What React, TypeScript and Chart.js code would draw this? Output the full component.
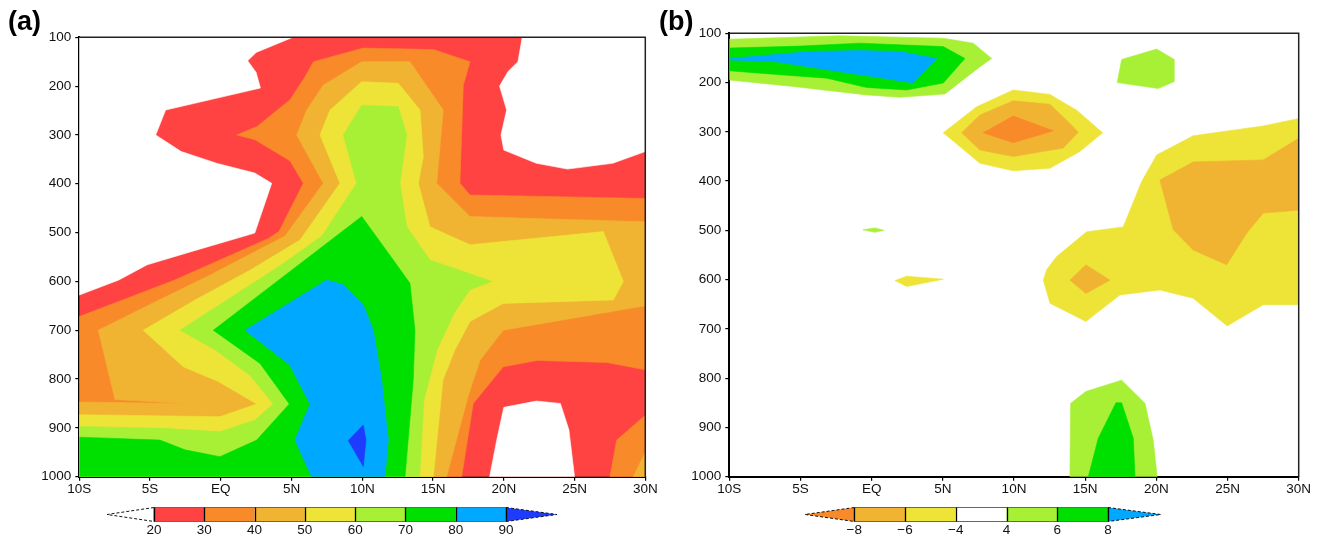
import React, { useEffect, useRef } from 'react';
import { Chart, registerables } from 'chart.js';

Chart.register(...registerables);

// ---------- axes ----------
const xTickValues = [-10, -5, 0, 5, 10, 15, 20, 25, 30];
const xTickLabels = ['10S', '5S', 'EQ', '5N', '10N', '15N', '20N', '25N', '30N'];
const yTickValues = [100, 200, 300, 400, 500, 600, 700, 800, 900, 1000];
const yTickLabels = ['100', '200', '300', '400', '500', '600', '700', '800', '900', '1000'];

// ---------- colour bar labels ----------
const levelsA = ['20', '30', '40', '50', '60', '70', '80', '90'];
const levelsB = ['\u22128', '\u22126', '\u22124', '4', '6', '8'];

// ---------- colours ----------
const RED = '#FF4242';
const ORANGE = '#F88A2A';
const LORANGE = '#F0B432';
const YELLOW = '#EEE438';
const LGREEN = '#A8F036';
const GREEN = '#00E000';
const BLUE = '#00A8FF';
const DBLUE = '#1E3CFF';
const WHITE = '#FFFFFF';

// ---------- panel (a): contour polygons [lon, hPa] ----------
const A_GE20 = [[-10, 100], [30, 100], [30, 1000], [-10, 1000]];
const A_LT20_TL = [[-10, 100], [5.1, 100], [2.5, 131], [1.9, 148], [2.5, 172], [2.8, 204], [-3.9, 249], [-4.6, 300], [-2.8, 334], [-0.3, 358], [2.4, 378], [3.6, 399], [2.4, 501], [-2.1, 539], [-5.2, 566], [-7.2, 597], [-10, 628]];
const A_LT20_TR = [[21.3, 100], [21.0, 150], [20.3, 170], [19.7, 200], [20.2, 249], [19.8, 300], [20.0, 331], [22.3, 358], [24.5, 370], [27.7, 358], [30, 334], [30, 100]];
const A_LT20_BOT = [[19.0, 1000], [19.5, 925], [20.0, 858], [22.3, 845], [24.0, 850], [24.6, 904], [25.0, 1000]];
const A_GE30 = [[-10, 672], [-3.25, 597], [3.36, 512], [4.11, 498], [5.83, 399], [4.89, 353], [2.42, 310], [1.12, 300], [2.54, 283], [4.89, 228], [5.95, 181], [6.54, 150], [10.07, 122], [15.02, 125], [17.61, 150], [17.14, 198], [16.9, 399], [17.61, 423], [30, 430], [30, 781], [27.27, 766], [22.33, 762], [19.96, 775], [17.84, 850], [17.02, 1000], [-10, 1000]];
const A_GE30_SE = [[30, 874], [27.98, 925], [27.5, 1000], [30, 1000]];
const A_GE40 = [[-10, 847], [-2.53, 850], [-7.48, 842], [-8.66, 700], [-4.65, 642], [-0.76, 587], [4.54, 507], [7.24, 399], [5.36, 300], [6.07, 249], [7.24, 198], [9.96, 150], [13.37, 150], [15.72, 249], [15.26, 399], [17.61, 467], [30, 478], [30, 650], [19.96, 700], [18.33, 761], [17.47, 836], [15.96, 1000], [-10, 1000]];
const A_GE40_SE = [[29.15, 1000], [30, 950], [30, 1000]];
const A_GE50 = [[-10, 873], [-0.06, 877], [2.54, 851], [-0.18, 805], [-2.65, 775], [-5.48, 700], [-1.82, 638], [2.06, 577], [5.6, 515], [8.42, 399], [7.01, 300], [7.72, 249], [9.96, 191], [12.54, 194], [14.08, 249], [14.31, 345], [13.96, 399], [14.78, 488], [17.61, 525], [27.03, 498], [28.45, 600], [27.74, 638], [19.96, 645], [17.61, 682], [16.55, 740], [15.7, 802], [15.02, 1000], [-10, 1000]];
const A_GE60 = [[-10, 897], [-4.06, 901], [-0.06, 908], [2.42, 884], [3.71, 851], [2.06, 792], [-0.41, 740], [-2.88, 700], [0.65, 634], [4.18, 568], [7.15, 507], [9.6, 399], [8.66, 300], [9.96, 239], [12.54, 242], [13.14, 300], [12.66, 399], [13.14, 488], [14.78, 556], [19.17, 600], [17.61, 617], [16.55, 662], [15.28, 740], [14.36, 843], [14.05, 1000], [-10, 1000]];
const A_GE70 = [[-10, 919], [-4.3, 925], [-2.53, 945], [-0.06, 959], [2.54, 925], [4.84, 851], [2.77, 768], [-0.53, 700], [9.96, 467], [12.19, 556], [13.37, 604], [13.72, 700], [13.6, 802], [13.02, 1000], [-10, 1000]];
const A_GE80 = [[1.71, 700], [7.48, 597], [8.66, 607], [10.07, 648], [10.78, 700], [11.37, 802], [11.84, 925], [11.6, 1000], [6.42, 1000], [5.24, 925], [6.3, 851], [4.88, 771]];
const A_GE90 = [[9.01, 926], [10.07, 894], [10.26, 925], [10.07, 979]];

// ---------- panel (b): contour polygons [lon, hPa] ----------
const B_LEM4_TOP = [[5.03, 302], [7.38, 249], [9.95, 215], [12.52, 224], [14.4, 256], [16.23, 302], [14.63, 340], [12.52, 374], [9.95, 379], [7.61, 364]];
const B_LEM4_MID = [[1.64, 602], [2.46, 593], [5.03, 599], [2.46, 614]];
const B_LEM4_EAST = [[30, 273], [27.51, 288], [22.59, 308], [20.02, 347], [18.97, 401], [17.67, 493], [15.1, 503], [13, 553], [12.29, 580], [12.06, 601], [12.53, 648], [15.05, 685], [17.44, 631], [20.25, 621], [22.59, 638], [24.98, 694], [27.51, 651], [30, 651]];
const B_LEM6_TOP = [[6.32, 302], [7.61, 266], [9.95, 237], [12.52, 244], [13.93, 283], [14.51, 301], [13.46, 333], [9.95, 350], [7.61, 337]];
const B_LEM6_EAST = [[30, 313], [27.51, 357], [22.59, 361], [20.25, 398], [21.19, 499], [22.59, 540], [24.94, 570], [26.34, 506], [27.51, 465], [30, 459]];
const B_LEM6_SMALL = [[13.93, 601], [15.05, 570], [16.74, 601], [15.05, 628]];
const B_LEM8_TOP = [[7.84, 302], [9.95, 268], [12.76, 298], [9.95, 322]];
const B_GE4_JET = [[-10, 112], [-2.22, 105], [5.03, 110], [7.14, 120], [8.43, 151], [7.61, 168], [5.15, 223], [1.99, 230], [-0.35, 225], [-5.5, 208], [-10, 195]];
const B_GE4_NE = [[17.56, 153], [20.02, 132], [21.26, 153], [21.26, 198], [20.13, 212], [17.25, 200]];
const B_GE4_EQ = [[-0.61, 499], [0.23, 495], [0.86, 500], [0.23, 504]];
const B_GE4_SFC = [[13.93, 1000], [13.98, 851], [15.05, 827], [17.56, 804], [19.2, 851], [19.78, 926], [20.06, 1000]];
const B_GE6_JET = [[-10, 130], [-5.04, 126], [-0.82, 120], [5.03, 127], [6.55, 151], [5.03, 201], [2.46, 215], [-0.35, 210], [-3.16, 191], [-7.85, 181], [-10, 176]];
const B_GE6_SFC = [[15.22, 1000], [15.92, 922], [17.16, 850], [17.56, 850], [18.38, 922], [18.5, 1000]];
const B_GE8_JET = [[-10, 151], [-4.33, 137], [-0.82, 135], [1.98, 137], [4.57, 151], [2.92, 201], [0.11, 188], [-3.16, 174], [-6.67, 158], [-10, 154]];

const layersA = [
  { poly: A_GE20, color: RED },
  { poly: A_LT20_TL, color: WHITE },
  { poly: A_LT20_TR, color: WHITE },
  { poly: A_LT20_BOT, color: WHITE },
  { poly: A_GE30, color: ORANGE },
  { poly: A_GE30_SE, color: ORANGE },
  { poly: A_GE40, color: LORANGE },
  { poly: A_GE40_SE, color: LORANGE },
  { poly: A_GE50, color: YELLOW },
  { poly: A_GE60, color: LGREEN },
  { poly: A_GE70, color: GREEN },
  { poly: A_GE80, color: BLUE },
  { poly: A_GE90, color: DBLUE },
];

const layersB = [
  { poly: B_LEM4_TOP, color: YELLOW },
  { poly: B_LEM4_MID, color: YELLOW },
  { poly: B_LEM4_EAST, color: YELLOW },
  { poly: B_LEM6_TOP, color: LORANGE },
  { poly: B_LEM6_EAST, color: LORANGE },
  { poly: B_LEM6_SMALL, color: LORANGE },
  { poly: B_LEM8_TOP, color: ORANGE },
  { poly: B_GE4_JET, color: LGREEN },
  { poly: B_GE4_NE, color: LGREEN },
  { poly: B_GE4_EQ, color: LGREEN },
  { poly: B_GE4_SFC, color: LGREEN },
  { poly: B_GE6_JET, color: GREEN },
  { poly: B_GE6_SFC, color: GREEN },
  { poly: B_GE8_JET, color: BLUE },
];

const colorbarA = { left: WHITE, boxes: [RED, ORANGE, LORANGE, YELLOW, LGREEN, GREEN, BLUE], right: DBLUE, labels: levelsA };
const colorbarB = { left: ORANGE, boxes: [LORANGE, YELLOW, WHITE, LGREEN, GREEN], right: BLUE, labels: levelsB };

const FONT = "'Liberation Sans', Arial, Helvetica, sans-serif";

const contourPlugin = {
  id: 'contourFill',
  beforeDatasetsDraw(chart: any) {
    const ctx = chart.ctx;
    const a = chart.chartArea;
    ctx.save();
    ctx.beginPath();
    ctx.rect(a.left, a.top, a.right - a.left, a.bottom - a.top);
    ctx.clip();
    chart.data.datasets.forEach((ds: any, i: number) => {
      const pts = chart.getDatasetMeta(i).data;
      if (!pts || !pts.length) return;
      ctx.beginPath();
      pts.forEach((p: any, j: number) => (j ? ctx.lineTo(p.x, p.y) : ctx.moveTo(p.x, p.y)));
      ctx.closePath();
      ctx.fillStyle = ds.backgroundColor;
      ctx.fill();
      ctx.strokeStyle = ds.backgroundColor;
      ctx.lineWidth = 0.6;
      ctx.stroke();
    });
    ctx.restore();
  },
};

function makeFramePlugin(cb: any, g: any) {
  return {
    id: 'frameAndBar',
    afterDraw(chart: any) {
      const ctx = chart.ctx;
      const a = chart.chartArea;
      ctx.save();
      // top & right frame
      ctx.strokeStyle = '#222';
      ctx.lineWidth = 1.5;
      ctx.beginPath();
      ctx.moveTo(a.left, a.top);
      ctx.lineTo(a.right, a.top);
      ctx.lineTo(a.right, a.bottom);
      ctx.stroke();

      // colour bar
      const y0 = g.cbTop;
      const h = g.cbH;
      const mid = y0 + h / 2;
      const n = cb.boxes.length;
      const w = g.boxW;
      const x0 = g.boxStart;
      const x1 = x0 + n * w;
      ctx.beginPath();
      ctx.moveTo(x0, y0);
      ctx.lineTo(g.triL, mid);
      ctx.lineTo(x0, y0 + h);
      ctx.closePath();
      ctx.fillStyle = cb.left;
      ctx.fill();
      ctx.beginPath();
      ctx.moveTo(x1, y0);
      ctx.lineTo(g.triR, mid);
      ctx.lineTo(x1, y0 + h);
      ctx.closePath();
      ctx.fillStyle = cb.right;
      ctx.fill();
      ctx.setLineDash([3, 2]);
      ctx.strokeStyle = '#111';
      ctx.lineWidth = 1;
      ctx.beginPath();
      ctx.moveTo(x0, y0); ctx.lineTo(g.triL, mid); ctx.lineTo(x0, y0 + h);
      ctx.moveTo(x1, y0); ctx.lineTo(g.triR, mid); ctx.lineTo(x1, y0 + h);
      ctx.stroke();
      ctx.setLineDash([]);
      cb.boxes.forEach((c: string, i: number) => {
        ctx.fillStyle = c;
        ctx.fillRect(x0 + i * w, y0, w, h);
      });
      ctx.strokeStyle = '#666';
      ctx.lineWidth = 1;
      ctx.strokeRect(x0, y0, n * w, h);
      ctx.strokeStyle = '#000';
      ctx.lineWidth = 1.3;
      ctx.beginPath();
      for (let i = 0; i <= n; i++) {
        const x = Math.round(x0 + i * w) + 0.5;
        ctx.moveTo(x, y0);
        ctx.lineTo(x, y0 + h);
      }
      ctx.stroke();
      ctx.fillStyle = '#111';
      ctx.font = `13.5px ${FONT}`;
      ctx.textAlign = 'center';
      ctx.textBaseline = 'middle';
      cb.labels.forEach((t: string, i: number) => {
        ctx.fillText(t, x0 + i * w, g.labelY);
      });
      ctx.restore();
    },
  };
}

function makeChart(canvas: HTMLCanvasElement, layers: any[], cb: any, g: any) {
  const tickFont = { family: FONT, size: 13.5 };
  return new Chart(canvas, {
    type: 'scatter',
    data: {
      datasets: layers.map((l) => ({
        data: l.poly.map(([x, y]: number[]) => ({ x, y })),
        backgroundColor: l.color,
        borderColor: 'transparent',
        showLine: false,
        pointRadius: 0,
        pointHoverRadius: 0,
      })),
    },
    options: {
      animation: false,
      responsive: false,
      devicePixelRatio: 1,
      events: [],
      layout: { padding: { left: g.padL, right: g.padR, top: g.padT, bottom: g.padB } },
      plugins: { legend: { display: false }, tooltip: { enabled: false }, title: { display: false } },
      scales: {
        x: {
          type: 'linear',
          min: -10,
          max: 30,
          afterBuildTicks: (s: any) => { s.ticks = xTickValues.map((v) => ({ value: v })); },
          afterFit: (s: any) => { s.height = 30; },
          ticks: {
            callback: (_v: any, i: number) => xTickLabels[i],
            font: tickFont,
            color: '#111',
            padding: 0,
            maxRotation: 0,
            autoSkip: false,
          },
          grid: { display: true, drawOnChartArea: false, drawTicks: true, tickLength: 4, color: '#000', lineWidth: 1.2 },
          border: { display: true, color: '#000', width: 2 },
        },
        y: {
          type: 'linear',
          reverse: true,
          min: 100,
          max: 1000,
          afterBuildTicks: (s: any) => { s.ticks = yTickValues.map((v) => ({ value: v })); },
          afterFit: (s: any) => { s.width = 60; },
          ticks: {
            callback: (_v: any, i: number) => yTickLabels[i],
            font: tickFont,
            color: '#111',
            padding: 4,
            autoSkip: false,
          },
          grid: { display: true, drawOnChartArea: false, drawTicks: true, tickLength: 4, color: '#000', lineWidth: 1.2 },
          border: { display: true, color: '#000', width: 2 },
        },
      },
    } as any,
    plugins: [contourPlugin, makeFramePlugin(cb, g)],
  });
}

const geomA = { padL: 19.3, padR: 15.7, padT: 37.3, padB: 30.3, cbTop: 507.5, cbH: 14, triL: 107, boxStart: 154, boxW: 50.29, triR: 557, labelY: 530 };
const geomB = { padL: 8.3, padR: 23.3, padT: 33.3, padB: 30.3, cbTop: 507.5, cbH: 14, triL: 144, boxStart: 193.3, boxW: 50.74, triR: 499.7, labelY: 530 };

export default function App() {
  const refA = useRef<HTMLCanvasElement>(null);
  const refB = useRef<HTMLCanvasElement>(null);

  useEffect(() => {
    const ca = makeChart(refA.current!, layersA, colorbarA, geomA);
    const cbb = makeChart(refB.current!, layersB, colorbarB, geomB);
    return () => {
      ca.destroy();
      cbb.destroy();
    };
  }, []);

  const titleStyle: React.CSSProperties = {
    position: 'absolute',
    top: 8,
    fontFamily: FONT,
    fontWeight: 'bold',
    fontSize: 27,
    lineHeight: '27px',
    color: '#000',
  };

  return (
    <div style={{ position: 'fixed', left: 0, top: 0, width: 1322, height: 537, background: '#fff' }}>
      <canvas ref={refA} width={661} height={537} style={{ position: 'absolute', left: 0, top: 0 }} />
      <canvas ref={refB} width={661} height={537} style={{ position: 'absolute', left: 661, top: 0 }} />
      <div style={{ ...titleStyle, left: 8 }}>(a)</div>
      <div style={{ ...titleStyle, left: 659 }}>(b)</div>
    </div>
  );
}
